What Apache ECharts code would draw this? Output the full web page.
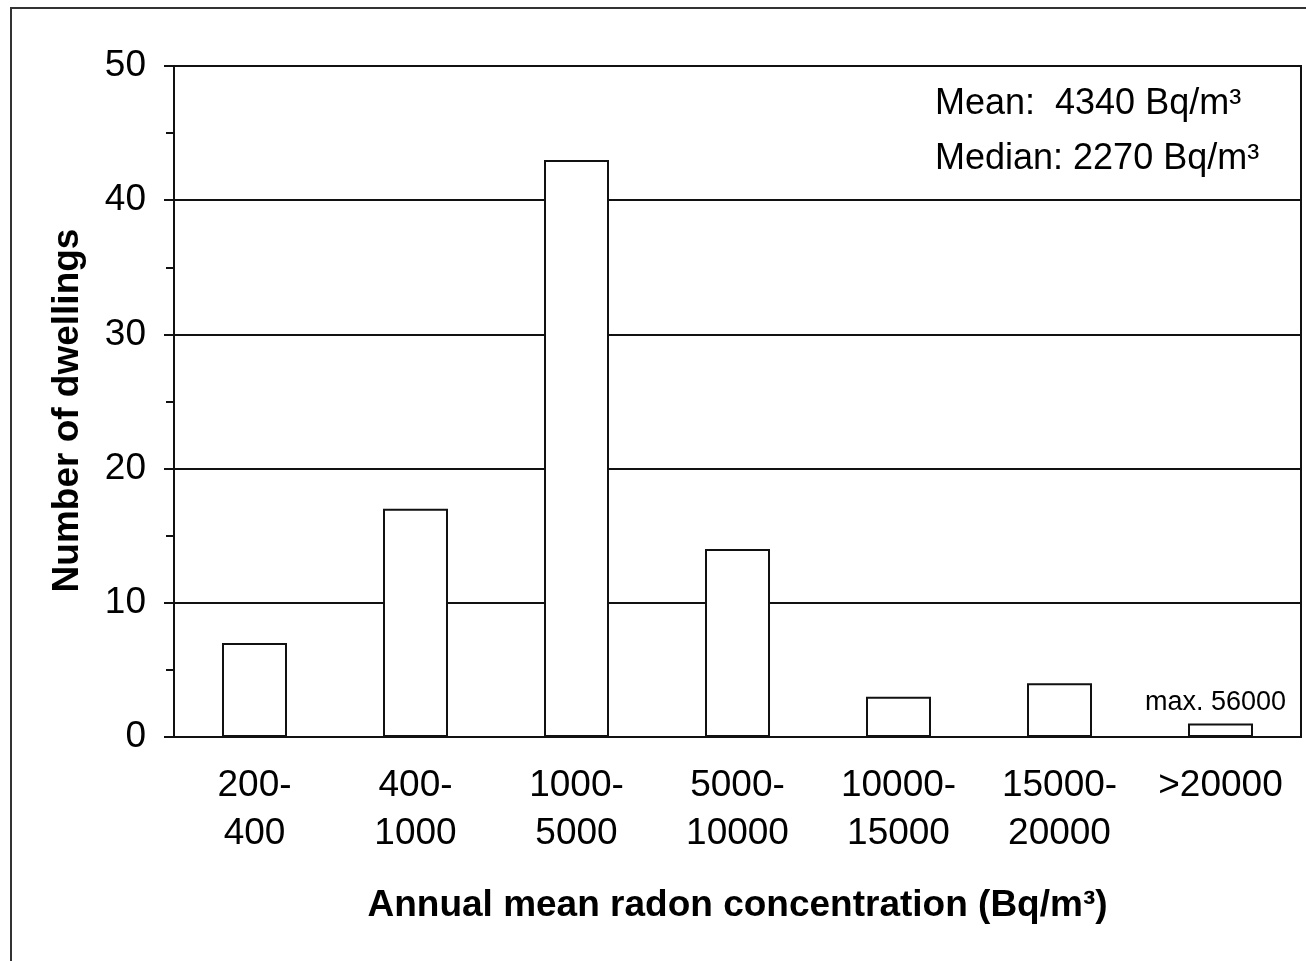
<!DOCTYPE html>
<html>
<head>
<meta charset="utf-8">
<script src="https://cdn.jsdelivr.net/npm/echarts@6/dist/echarts.min.js"></script>
<style>
html,body{margin:0;padding:0;background:#fff;}
#chart{width:1306px;height:961px;}
</style>
</head>
<body>
<div id="chart"></div>
<script>
var categories = ['200-\n400', '400-\n1000', '1000-\n5000', '5000-\n10000', '10000-\n15000', '15000-\n20000', '>20000'];
var dwellings = [7, 17, 43, 14, 3, 4, 1];
var maxLabel = 'max. 56000';
var statsLines = ['Mean:  4340 Bq/m\u00B3', 'Median: 2270 Bq/m\u00B3'];

var FONT = '"Liberation Sans", Arial, sans-serif';
var chart = echarts.init(document.getElementById('chart'));
chart.setOption({
  backgroundColor: '#fff',
  animation: false,
  grid: {
    left: 174, top: 66, right: 5, bottom: 224,
    show: true, borderColor: '#111', borderWidth: 2, backgroundColor: 'transparent'
  },
  graphic: [
    { type: 'rect', shape: { x: 11, y: 8, width: 1400, height: 1000 },
      style: { fill: 'none', stroke: '#333', lineWidth: 2 }, silent: true },
    { type: 'text', left: 935, top: 86,
      style: { text: statsLines[0], font: '36px ' + FONT, fill: '#000' } },
    { type: 'text', left: 935, top: 141,
      style: { text: statsLines[1], font: '36px ' + FONT, fill: '#000' } }
  ],
  xAxis: {
    type: 'category',
    data: categories,
    axisLine: { lineStyle: { color: '#111', width: 2 } },
    axisTick: { show: false },
    axisLabel: { color: '#000', fontSize: 37, fontFamily: FONT, lineHeight: 48, margin: 25, interval: 0 },
    name: 'Annual mean radon concentration (Bq/m\u00B3)',
    nameLocation: 'middle',
    nameGap: 150,
    nameTextStyle: { color: '#000', fontSize: 37, fontWeight: 'bold', fontFamily: FONT }
  },
  yAxis: {
    type: 'value',
    min: 0, max: 50, interval: 10,
    axisLine: { show: true, lineStyle: { color: '#111', width: 2 } },
    axisTick: { show: true, length: 10, lineStyle: { color: '#111', width: 2 } },
    minorTick: { show: true, splitNumber: 2, length: 8, lineStyle: { color: '#111', width: 2 } },
    splitLine: { show: true, lineStyle: { color: '#111', width: 2 } },
    axisLabel: { color: '#000', fontSize: 37, fontFamily: FONT, margin: 28 },
    name: 'Number of dwellings',
    nameLocation: 'middle',
    nameGap: 88,
    nameTextStyle: { color: '#000', fontSize: 37, fontWeight: 'bold', fontFamily: FONT, padding: [0, 18, 0, 0] }
  },
  series: [{
    type: 'bar',
    data: dwellings.map(function (v, i) {
      var d = { value: v };
      if (i === dwellings.length - 1) {
        d.label = { show: true, position: 'top', distance: 8, formatter: maxLabel,
          color: '#000', fontSize: 27, fontFamily: FONT, offset: [-5, 0] };
      }
      return d;
    }),
    barWidth: 65,
    itemStyle: { color: '#fff', borderColor: '#111', borderWidth: 2 }
  }]
});
</script>
</body>
</html>
